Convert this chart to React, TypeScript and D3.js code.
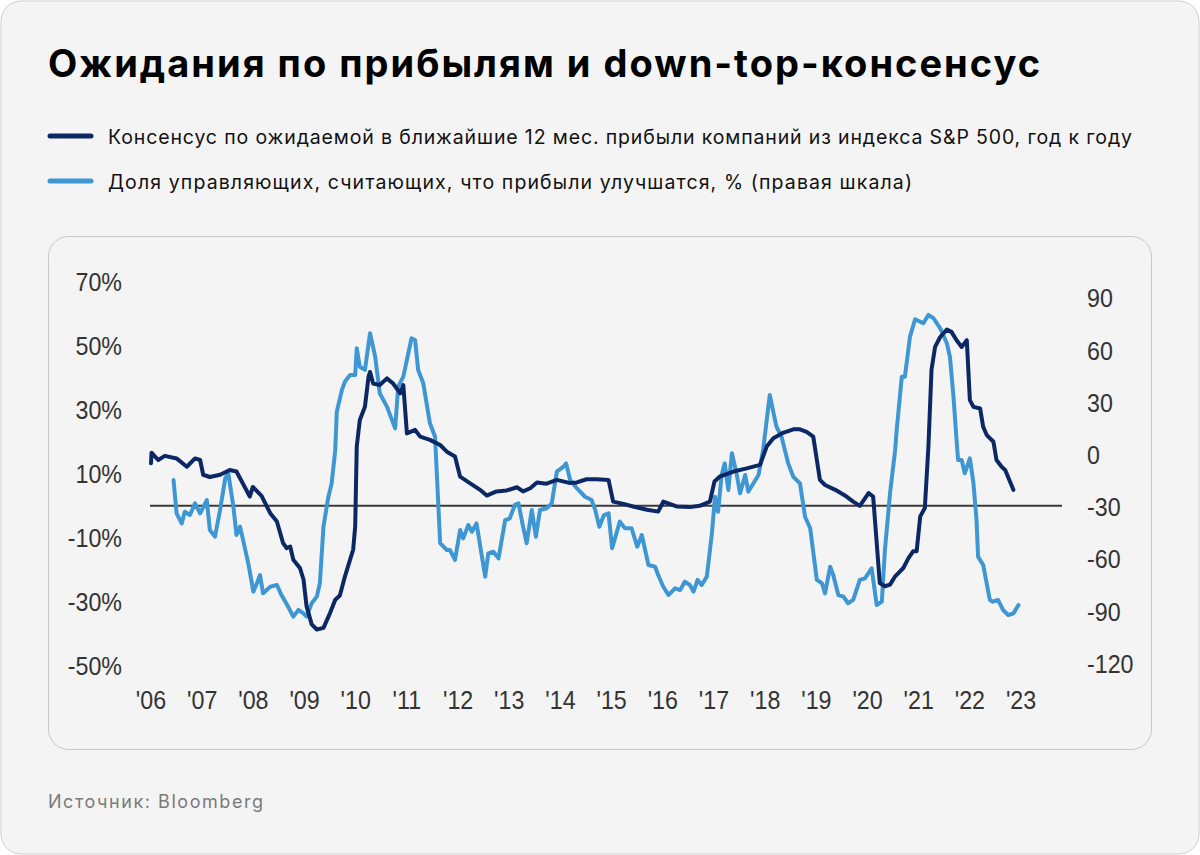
import React from "react";
import * as d3 from "d3";

// ---------- DATA ----------
const TITLE = "Ожидания по прибылям и down-top-консенсус";
const LEGEND_CONSENSUS = "Консенсус по ожидаемой в ближайшие 12 мес. прибыли компаний из индекса S&P 500, год к году";
const LEGEND_MANAGERS = "Доля управляющих, считающих, что прибыли улучшатся, % (правая шкала)";
const SOURCE = "Источник: Bloomberg";

const yearTicks = [2006, 2007, 2008, 2009, 2010, 2011, 2012, 2013, 2014, 2015, 2016, 2017, 2018, 2019, 2020, 2021, 2022, 2023];
const yearLabels = ["'06", "'07", "'08", "'09", "'10", "'11", "'12", "'13", "'14", "'15", "'16", "'17", "'18", "'19", "'20", "'21", "'22", "'23"];
const leftTicks = [70, 50, 30, 10, -10, -30, -50];
const rightTicks = [90, 60, 30, 0, -30, -60, -90, -120];

// Consensus 12m forward EPS growth, % y/y (left axis)
const consensusDates = [
  2006.0, 2006.01, 2006.14, 2006.27, 2006.5, 2006.7, 2006.86, 2006.96, 2007.02, 2007.15,
  2007.35, 2007.54, 2007.67, 2007.93, 2007.99, 2008.16, 2008.33, 2008.46, 2008.58, 2008.65,
  2008.72, 2008.78, 2008.91, 2008.98, 2009.04, 2009.14, 2009.24, 2009.37, 2009.5, 2009.6,
  2009.69, 2009.79, 2009.89, 2009.95, 2009.99, 2010.02, 2010.08, 2010.18, 2010.25, 2010.28,
  2010.34, 2010.47, 2010.61, 2010.73, 2010.87, 2010.93, 2011.0, 2011.16, 2011.26, 2011.45,
  2011.65, 2011.78, 2011.94, 2012.04, 2012.23, 2012.43, 2012.56, 2012.75, 2012.95, 2013.15,
  2013.27, 2013.41, 2013.54, 2013.73, 2013.93, 2014.19, 2014.32, 2014.51, 2014.71, 2014.94,
  2015.03, 2015.23, 2015.42, 2015.69, 2015.91, 2016.01, 2016.27, 2016.53, 2016.72, 2016.92,
  2017.01, 2017.11, 2017.38, 2017.64, 2017.9, 2018.03, 2018.16, 2018.35, 2018.55, 2018.68,
  2018.81, 2018.94, 2019.01, 2019.07, 2019.17, 2019.37, 2019.59, 2019.72, 2019.85, 2020.02,
  2020.11, 2020.24, 2020.34, 2020.44, 2020.54, 2020.7, 2020.8, 2020.89, 2020.96, 2021.03,
  2021.12, 2021.19, 2021.25, 2021.32, 2021.42, 2021.55, 2021.64, 2021.74, 2021.84, 2021.94,
  2022.0, 2022.07, 2022.2, 2022.26, 2022.33, 2022.46, 2022.52, 2022.62, 2022.69, 2022.85,
];
const consensusValues = [
  13.3, 16.6, 14.3, 15.6, 14.8, 12.2, 14.8, 14.3, 9.7, 9.0,
  9.7, 11.2, 10.7, 2.9, 5.9, 3.1, -2.3, -4.9, -11.6, -13.2,
  -12.7, -16.8, -19.4, -23.0, -31.4, -37.0, -38.6, -38.1, -33.4, -29.3,
  -28.0, -22.0, -16.8, -13.7, -6.4, 18.5, 26.8, 30.9, 40.3, 41.8,
  38.2, 37.7, 39.8, 38.2, 35.1, 37.7, 22.6, 23.7, 21.6, 20.6,
  19.0, 16.9, 15.4, 9.1, 7.1, 5.0, 3.2, 4.5, 4.8, 5.8,
  4.5, 5.5, 7.3, 6.9, 8.1, 7.1, 7.3, 8.3, 8.3, 8.1,
  1.3, 0.6, -0.2, -1.2, -1.8, 1.3, -0.2, -0.4, 0.0, 1.3,
  7.6, 9.1, 10.7, 11.7, 12.8, 18.5, 21.1, 22.8, 23.9, 23.9,
  23.1, 21.6, 14.3, 8.1, 6.5, 5.0, 2.9, 1.3, 0.0, 4.0,
  2.9, -24.1, -25.1, -24.6, -22.0, -19.4, -16.3, -14.2, -14.2, -3.3,
  -0.7, 18.5, 42.4, 49.6, 52.7, 55.0, 54.3, 51.7, 49.6, 51.7,
  33.0, 30.9, 30.4, 24.7, 22.1, 20.0, 14.3, 12.2, 11.2, 5.0,
];

// Share of managers expecting profits to improve, % (right axis)
const managersDates = [
  2006.44, 2006.5, 2006.6, 2006.66, 2006.76, 2006.86, 2006.96, 2007.09, 2007.15, 2007.25,
  2007.35, 2007.45, 2007.51, 2007.61, 2007.67, 2007.74, 2007.8, 2007.9, 2008.0, 2008.07,
  2008.13, 2008.19, 2008.33, 2008.46, 2008.55, 2008.68, 2008.78, 2008.88, 2008.98, 2009.04,
  2009.14, 2009.24, 2009.3, 2009.37, 2009.46, 2009.53, 2009.6, 2009.63, 2009.73, 2009.79,
  2009.89, 2009.99, 2010.02, 2010.08, 2010.18, 2010.28, 2010.38, 2010.47, 2010.61, 2010.77,
  2010.83, 2010.93, 2011.09, 2011.16, 2011.22, 2011.32, 2011.45, 2011.55, 2011.65, 2011.78,
  2011.84, 2011.94, 2012.04, 2012.1, 2012.2, 2012.27, 2012.36, 2012.53, 2012.59, 2012.69,
  2012.79, 2012.92, 2013.01, 2013.11, 2013.18, 2013.27, 2013.34, 2013.44, 2013.52, 2013.6,
  2013.73, 2013.83, 2013.93, 2014.06, 2014.11, 2014.19, 2014.32, 2014.48, 2014.61, 2014.68,
  2014.76, 2014.85, 2014.94, 2015.01, 2015.16, 2015.26, 2015.39, 2015.5, 2015.59, 2015.72,
  2015.85, 2015.91, 2016.01, 2016.11, 2016.24, 2016.34, 2016.43, 2016.53, 2016.6, 2016.68,
  2016.76, 2016.86, 2016.96, 2017.02, 2017.08, 2017.15, 2017.21, 2017.28, 2017.35, 2017.44,
  2017.51, 2017.61, 2017.67, 2017.87, 2017.96, 2018.09, 2018.22, 2018.32, 2018.45, 2018.55,
  2018.68, 2018.78, 2018.88, 2019.01, 2019.11, 2019.17, 2019.27, 2019.33, 2019.43, 2019.53,
  2019.62, 2019.72, 2019.85, 2019.95, 2020.08, 2020.18, 2020.28, 2020.34, 2020.44, 2020.54,
  2020.57, 2020.67, 2020.73, 2020.83, 2020.93, 2021.09, 2021.19, 2021.29, 2021.42, 2021.55,
  2021.61, 2021.68, 2021.74, 2021.77, 2021.84, 2021.9, 2022.0, 2022.07, 2022.13, 2022.16,
  2022.26, 2022.39, 2022.45, 2022.55, 2022.65, 2022.75, 2022.85, 2022.95,
];
const managersValues = [
  -14.4, -33.5, -39.3, -32.6, -34.5, -27.8, -33.5, -25.9, -43.1, -46.9,
  -31.6, -13.4, -10.5, -29.7, -46.0, -41.2, -48.9, -62.2, -78.5, -73.7,
  -69.0, -79.5, -75.7, -74.7, -80.5, -87.2, -92.9, -89.0, -91.0, -92.9,
  -85.2, -81.4, -73.7, -41.2, -24.9, -16.3, 2.9, 24.9, 37.4, 42.2,
  46.0, 46.0, 61.3, 50.7, 48.9, 70.0, 56.5, 35.5, 27.8, 15.3,
  39.3, 45.0, 67.1, 66.1, 48.9, 41.2, 18.2, 10.5, -50.7, -54.6,
  -54.6, -60.3, -43.1, -47.9, -40.2, -44.1, -39.3, -69.9, -56.5, -55.6,
  -59.4, -37.4, -36.4, -28.7, -27.8, -41.2, -50.7, -31.6, -47.0, -31.6,
  -30.6, -27.8, -9.6, -6.7, -4.8, -14.4, -19.1, -24.0, -25.9, -31.6,
  -41.2, -34.5, -33.5, -53.6, -38.3, -42.1, -42.1, -52.7, -46.0, -63.2,
  -64.2, -69.0, -75.7, -80.5, -76.6, -77.6, -72.8, -74.7, -78.5, -71.8,
  -74.7, -69.9, -45.0, -24.0, -32.6, -11.5, -4.8, -20.1, 1.0, -10.5,
  -22.0, -11.5, -21.1, -11.5, 2.9, 34.5, 16.3, 10.5, -4.8, -12.5,
  -16.3, -35.5, -42.1, -71.8, -73.7, -79.5, -64.2, -69.0, -80.5, -81.4,
  -85.2, -83.3, -71.8, -70.9, -65.1, -86.2, -84.3, -54.6, -22.0, 2.9,
  14.4, 45.0, 45.0, 68.0, 78.0, 75.7, 80.5, 78.6, 72.8, 64.2,
  56.5, 33.5, 8.6, -2.9, -2.9, -10.5, -1.9, -16.3, -37.4, -58.4,
  -63.2, -83.3, -84.3, -83.3, -89.1, -92.0, -91.0, -86.2,
];

// ---------- STYLE ----------
const W = 1200;
const H = 855;
const BG = "#f4f4f4";
const DARK = "#0b2865";
const LIGHT = "#3e97d3";
const AXIS_TEXT = "#333333";
const TICK_FONT = "'Liberation Sans', Arial, sans-serif";
const UI_FONT = "Inter, 'Noto Sans', sans-serif";

export default function App() {
  const x = d3.scaleLinear().domain([2006, 2023.8]).range([151, 1062]);
  const yL = d3.scaleLinear().domain([-50, 70]).range([666, 281.6]);
  const yR = d3.scaleLinear().domain([-120, 90]).range([663.8, 298.4]);

  const consensus = consensusDates.map((d, i) => [d, consensusValues[i]] as [number, number]);
  const managers = managersDates.map((d, i) => [d, managersValues[i]] as [number, number]);

  const lineL = d3.line<[number, number]>().x((d) => x(d[0])).y((d) => yL(d[1]));
  const lineR = d3.line<[number, number]>().x((d) => x(d[0])).y((d) => yR(d[1]));

  const tickScaleX = 0.93;

  return (
    <svg
      width={W}
      height={H}
      viewBox={`0 0 ${W} ${H}`}
      style={{ position: "absolute", left: 0, top: 0, display: "block" }}
    >
      <rect x={0} y={0} width={W} height={H} fill="#ffffff" />
      <rect x={1} y={1} width={W - 2} height={H - 2} rx={20} ry={20} fill={BG} stroke="#cfcfcf" strokeWidth={1} />

      <text x={48} y={77} fontFamily={UI_FONT} fontWeight={700} fontSize={38} fill="#000" textLength={992} lengthAdjust="spacing">
        {TITLE}
      </text>

      {/* legend */}
      <line x1={50} x2={91} y1={136} y2={136} stroke={DARK} strokeWidth={5} strokeLinecap="round" />
      <text x={108} y={144} fontFamily={UI_FONT} fontSize={19.5} fill="#111" textLength={1024} lengthAdjust="spacing">
        {LEGEND_CONSENSUS}
      </text>
      <line x1={50} x2={91} y1={181} y2={181} stroke={LIGHT} strokeWidth={5} strokeLinecap="round" />
      <text x={108} y={189} fontFamily={UI_FONT} fontSize={19.5} fill="#111" textLength={804} lengthAdjust="spacing">
        {LEGEND_MANAGERS}
      </text>

      {/* chart card */}
      <rect x={48.5} y={236.5} width={1103} height={513} rx={20} ry={20} fill={BG} stroke="#c8c8c8" strokeWidth={1} />

      {/* left ticks */}
      {leftTicks.map((t) => (
        <text
          key={"l" + t}
          transform={`translate(122,${yL(t)}) scale(${tickScaleX},1)`}
          textAnchor="end"
          dy="0.36em"
          fontFamily={TICK_FONT}
          fontSize={25}
          fill={AXIS_TEXT}
        >
          {t + "%"}
        </text>
      ))}

      {/* right ticks */}
      {rightTicks.map((t) => (
        <text
          key={"r" + t}
          transform={`translate(1087,${yR(t)}) scale(${tickScaleX},1)`}
          textAnchor="start"
          dy="0.36em"
          fontFamily={TICK_FONT}
          fontSize={25}
          fill={AXIS_TEXT}
        >
          {String(t)}
        </text>
      ))}

      {/* x ticks */}
      {yearTicks.map((t, i) => (
        <text
          key={"x" + t}
          transform={`translate(${x(t)},709) scale(${tickScaleX},1)`}
          textAnchor="middle"
          fontFamily={TICK_FONT}
          fontSize={25}
          fill={AXIS_TEXT}
        >
          {yearLabels[i]}
        </text>
      ))}

      {/* zero line */}
      <line x1={x(2006) - 1} x2={x(2023.8)} y1={yL(0)} y2={yL(0)} stroke="#3a3a3a" strokeWidth={2} />

      <path d={lineR(managers) || ""} fill="none" stroke={LIGHT} strokeWidth={4} strokeLinejoin="round" strokeLinecap="round" />
      <path d={lineL(consensus) || ""} fill="none" stroke={DARK} strokeWidth={4} strokeLinejoin="round" strokeLinecap="round" />

      <text x={48} y={808} fontFamily={UI_FONT} fontSize={18} fill="#7a7a7a" textLength={215} lengthAdjust="spacing">
        {SOURCE}
      </text>
    </svg>
  );
}
